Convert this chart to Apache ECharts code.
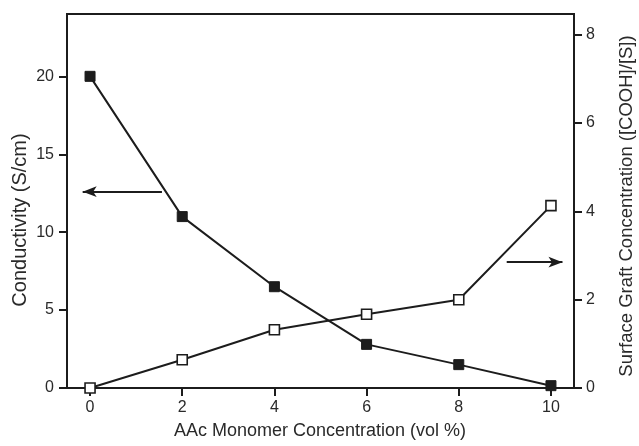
<!DOCTYPE html>
<html>
<head>
<meta charset="utf-8">
<script src="https://cdn.jsdelivr.net/npm/echarts@6/dist/echarts.min.js"></script>
<style>
html,body{margin:0;padding:0;background:#fff;}
#chart{width:639px;height:446px;}
</style>
</head>
<body>
<div id="chart"></div>
<script>
// Data
const concentration = [0, 2, 4, 6, 8, 10];
const conductivity = [20, 11, 6.5, 2.8, 1.5, 0.15];
const surfaceGraft = [0, 0.64, 1.32, 1.67, 2.0, 4.13];
const xTicks = [0, 2, 4, 6, 8, 10];
const leftTicks = [0, 5, 10, 15, 20];
const rightTicks = [0, 2, 4, 6, 8];
const xTitle = 'AAc Monomer Concentration (vol %)';
const leftTitle = 'Conductivity (S/cm)';
const rightTitle = 'Surface Graft Concentration ([COOH]/[S])';

const FONT = '"Liberation Sans", Arial, sans-serif';
const TXT = '#2a2a2a';
const LINE = '#1c1c1c';

const chart = echarts.init(document.getElementById('chart'), null, {renderer: 'canvas'});

function pairs(xs, ys) { return xs.map((x, i) => [x, ys[i]]); }

const axisCommon = {
  axisLine: {show: true, onZero: false, lineStyle: {color: LINE, width: 2}},
  axisTick: {show: true, inside: false, length: 8, lineStyle: {color: LINE, width: 2}},
  splitLine: {show: false},
  axisLabel: {color: TXT, fontFamily: FONT, fontSize: 16}
};

chart.setOption({
  animation: false,
  backgroundColor: '#fff',
  grid: {left: 67, right: 65, top: 14, bottom: 58, show: true, borderColor: LINE, borderWidth: 2, backgroundColor: 'transparent'},
  xAxis: Object.assign({}, axisCommon, {
    type: 'value', min: -0.5, max: 10.5,
    axisTick: Object.assign({}, axisCommon.axisTick, {customValues: xTicks}),
    axisLabel: Object.assign({}, axisCommon.axisLabel, {customValues: xTicks, margin: 12})
  }),
  yAxis: [
    Object.assign({}, axisCommon, {
      type: 'value', position: 'left', min: 0, max: 24,
      axisTick: Object.assign({}, axisCommon.axisTick, {customValues: leftTicks}),
      axisLabel: Object.assign({}, axisCommon.axisLabel, {customValues: leftTicks, margin: 13})
    }),
    Object.assign({}, axisCommon, {
      type: 'value', position: 'right', min: 0, max: 8.47,
      axisTick: Object.assign({}, axisCommon.axisTick, {customValues: rightTicks}),
      axisLabel: Object.assign({}, axisCommon.axisLabel, {customValues: rightTicks, margin: 12})
    })
  ],
  graphic: [
    {type: 'text', x: 20, y: 220, rotation: Math.PI / 2,
     style: {text: leftTitle, fill: TXT, font: '20px ' + FONT, textAlign: 'center', textVerticalAlign: 'middle'}},
    {type: 'text', x: 627, y: 206, rotation: Math.PI / 2,
     style: {text: rightTitle, fill: TXT, font: '18.5px ' + FONT, textAlign: 'center', textVerticalAlign: 'middle'}},
    {type: 'text', x: 320, y: 431,
     style: {text: xTitle, fill: TXT, font: '18px ' + FONT, textAlign: 'center', textVerticalAlign: 'middle'}}
  ],
  series: [
    {
      type: 'line', name: 'Conductivity', yAxisIndex: 0,
      data: pairs(concentration, conductivity),
      symbol: 'rect', symbolSize: 10,
      lineStyle: {color: LINE, width: 2},
      itemStyle: {color: LINE, borderColor: LINE, borderWidth: 1},
      z: 3,
      markLine: {
        silent: true, animation: false,
        symbol: ['none', 'arrow'], symbolSize: [8, 14],
        label: {show: false},
        lineStyle: {color: LINE, width: 2, type: 'solid'},
        data: [[{coord: [1.56, 12.6]}, {coord: [-0.16, 12.6]}]]
      }
    },
    {
      type: 'line', name: 'Surface Graft', yAxisIndex: 1,
      data: pairs(concentration, surfaceGraft),
      symbol: 'rect', symbolSize: 10,
      lineStyle: {color: LINE, width: 2},
      itemStyle: {color: '#fff', borderColor: LINE, borderWidth: 1.6},
      z: 4,
      markLine: {
        silent: true, animation: false,
        symbol: ['none', 'arrow'], symbolSize: [8, 14],
        label: {show: false},
        lineStyle: {color: LINE, width: 2, type: 'solid'},
        data: [[{coord: [9.04, 2.85]}, {coord: [10.25, 2.85]}]]
      }
    }
  ]
});
</script>
</body>
</html>
